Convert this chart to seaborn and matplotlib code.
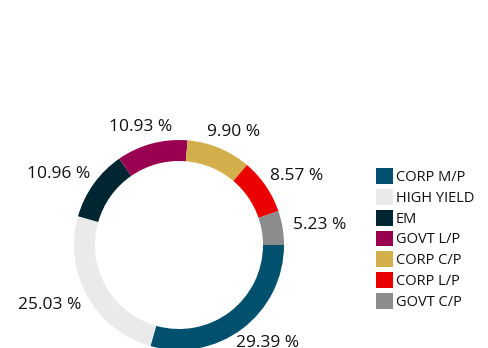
import numpy as np
import matplotlib
matplotlib.use("Agg")
import matplotlib.pyplot as plt
import seaborn as sns

categories = ["CORP M/P", "HIGH YIELD", "EM", "GOVT L/P", "CORP C/P", "CORP L/P", "GOVT C/P"]
shares = [29.39, 25.03, 10.96, 10.93, 9.90, 8.57, 5.23]
value_labels = ["29.39 %", "25.03 %", "10.96 %", "10.93 %", "9.90 %", "8.57 %", "5.23 %"]
colors = ["#00506E", "#EAEAEA", "#002731", "#990050", "#D3AF4B", "#EB0000", "#8C8C8C"]

sns.set_theme(style="white")
plt.rcParams["font.family"] = ["Open Sans", "DejaVu Sans"]

W, H = 488, 348
fig = plt.figure(figsize=(W / 100, H / 100), dpi=100)
ax = fig.add_axes([0, 0, 1, 1])

# ring geometry in pixel units
cx, cy = 179, H - 245
R, ring = 105, 21

wedges, _ = ax.pie(
    shares,
    colors=sns.color_palette(colors),
    startangle=0,
    counterclock=False,
    radius=R,
    center=(cx, cy),
    wedgeprops=dict(width=ring, linewidth=0, edgecolor="none"),
    frame=True,
)
ax.set_xlim(0, W)
ax.set_ylim(0, H)
ax.set_aspect("equal")
ax.axis("off")

# value labels just outside the ring, pushed out by half their own size
renderer = fig.canvas.get_renderer()
gap = 11
for w, txt in zip(wedges, value_labels):
    theta = np.deg2rad((w.theta1 + w.theta2) / 2)
    t = ax.text(0, 0, txt, fontsize=12.5, color="#111111", ha="center", va="center")
    bb = t.get_window_extent(renderer)
    tw, th = bb.width, bb.height * 0.8
    x = cx + (R + gap) * np.cos(theta) + np.cos(theta) * tw / 2
    y = cy + (R + gap) * np.sin(theta) + np.sin(theta) * th / 2
    t.set_position((x, y))

fs = 10.5
px = fs * 100 / 72
leg = ax.legend(
    wedges, categories,
    loc="upper left",
    bbox_to_anchor=(376 / W, 1 - 168 / H),
    bbox_transform=fig.transFigure,
    frameon=False,
    fontsize=fs,
    handlelength=17 / px,
    handleheight=19 / px,
    handletextpad=3 / px,
    labelspacing=4 / px,
    borderpad=0,
    borderaxespad=0,
)
for t in leg.get_texts():
    t.set_color("#111111")

fig.savefig("out.png", dpi=100)
